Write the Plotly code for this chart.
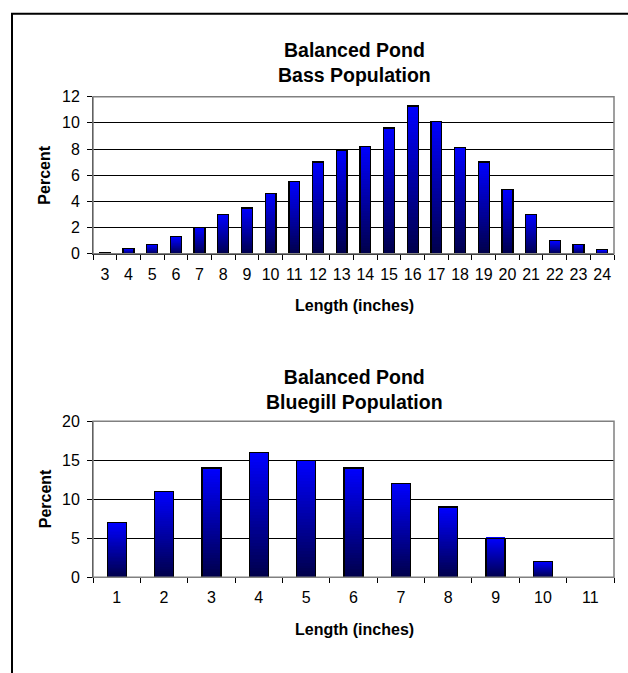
import plotly.graph_objects as go

# ---- data ----
bass_lengths = ["3", "4", "5", "6", "7", "8", "9", "10", "11", "12", "13", "14",
                "15", "16", "17", "18", "19", "20", "21", "22", "23", "24"]
bass_percent = [0.1, 0.4, 0.7, 1.3, 2.0, 3.0, 3.5, 4.6, 5.5, 7.0, 7.9, 8.2,
                9.6, 11.3, 10.1, 8.1, 7.0, 4.9, 3.0, 1.0, 0.7, 0.3]

bluegill_lengths = ["1", "2", "3", "4", "5", "6", "7", "8", "9", "10", "11"]
bluegill_percent = [7, 11, 14, 16, 15, 14, 12, 9, 5, 2, 0]

bass_title = "Balanced Pond<br>Bass Population"
bluegill_title = "Balanced Pond<br>Bluegill Population"
x_title = "Length (inches)"
y_title = "Percent"

# ---- styling ----
W, H = 628, 673
FONT = "Arial, Liberation Sans, sans-serif"
N_SLICES = 40
TOP_B, BOT_B = 255, 74


def px_x(p):
    return p / W


def px_y(p):
    return 1 - p / H


fig = go.Figure()


def add_gradient_bars(cats, vals, xa, xa_outline, ya, width):
    # vertical gradient per bar: stack equal slices, dark at bottom, bright at top
    for k in range(N_SLICES):
        t = (k + 0.5) / N_SLICES
        b = int(round(BOT_B + (TOP_B - BOT_B) * t))
        fig.add_trace(go.Bar(
            x=cats, y=[v / N_SLICES for v in vals], width=width,
            marker=dict(color=f"rgb(0,0,{b})", line=dict(width=0)),
            xaxis=xa, yaxis=ya, showlegend=False, hoverinfo="skip"))
    # outline of every full bar, on an overlaying axis so it is not stacked
    fig.add_trace(go.Bar(
        x=cats, y=vals, width=width,
        marker=dict(color="rgba(0,0,0,0)", line=dict(color="#000000", width=1.3)),
        xaxis=xa_outline, yaxis=ya, showlegend=False, hoverinfo="skip"))


add_gradient_bars(bass_lengths, bass_percent, "x", "x3", "y", 0.46)
add_gradient_bars(bluegill_lengths, bluegill_percent, "x2", "x4", "y2", 0.40)

xdom = [px_x(93), px_x(614)]
bass_ydom = [px_y(252), px_y(91)]
blue_ydom = [px_y(584), px_y(424)]

tickfont = dict(family=FONT, size=16, color="#000000")

def xaxis_cfg(cats, anchor):
    return dict(type="category", categoryorder="array", categoryarray=cats,
                range=[-0.5, len(cats) - 0.5], domain=xdom, anchor=anchor,
                showgrid=False, zeroline=False, showline=True, linecolor="#000000",
                linewidth=1, ticks="outside", tickson="boundaries", ticklen=5,
                tickcolor="#000000", tickwidth=1, tickfont=tickfont, tickangle=0,
                ticklabelstandoff=6, fixedrange=True)

def yaxis_cfg(dom, rng, dtick, anchor):
    return dict(domain=dom, range=rng, dtick=dtick, tick0=0, anchor=anchor,
                showgrid=True, gridcolor="#000000", gridwidth=1, zeroline=False,
                showline=True, linecolor="#000000", linewidth=1, ticks="outside",
                ticklen=5, tickcolor="#000000", tickwidth=1, tickfont=tickfont,
                ticklabelstandoff=4, fixedrange=True)

fig.update_layout(
    width=W, height=H,
    margin=dict(l=0, r=0, t=0, b=0),
    paper_bgcolor="#ffffff", plot_bgcolor="#ffffff",
    barmode="stack",
    showlegend=False,
    xaxis=xaxis_cfg(bass_lengths, "y"),
    yaxis=yaxis_cfg(bass_ydom, [0, 12], 2, "x"),
    xaxis2=xaxis_cfg(bluegill_lengths, "y2"),
    yaxis2=yaxis_cfg(blue_ydom, [0, 20], 5, "x2"),
    xaxis3=dict(type="category", categoryorder="array", categoryarray=bass_lengths,
                range=[-0.5, len(bass_lengths) - 0.5], overlaying="x", anchor="y",
                visible=False, fixedrange=True),
    xaxis4=dict(type="category", categoryorder="array", categoryarray=bluegill_lengths,
                range=[-0.5, len(bluegill_lengths) - 0.5], overlaying="x2", anchor="y2",
                visible=False, fixedrange=True),
)

title_font = dict(family=FONT, size=19.5, color="#000000")
axis_font = dict(family=FONT, size=16, color="#000000")
cx = px_x(354)

annotations = [
    dict(text=f"<b>{bass_title}</b>", x=cx, y=px_y(56), font=title_font),
    dict(text=f"<b>{x_title}</b>", x=cx, y=px_y(305), font=axis_font),
    dict(text=f"<b>{y_title}</b>", x=px_x(45), y=px_y(172), font=axis_font, textangle=-90),
    dict(text=f"<b>{bluegill_title}</b>", x=cx, y=px_y(391), font=title_font),
    dict(text=f"<b>{x_title}</b>", x=cx, y=px_y(638), font=axis_font),
    dict(text=f"<b>{y_title}</b>", x=px_x(45), y=px_y(504), font=axis_font, textangle=-90),
]
for a in annotations:
    a.update(xref="paper", yref="paper", showarrow=False, xanchor="center", yanchor="middle")
fig.update_layout(annotations=annotations)

shapes = [
    # gray plot-area borders
    dict(type="rect", xref="x domain", yref="y domain", x0=0, x1=1, y0=0, y1=1,
         line=dict(color="#808080", width=1.5), fillcolor="rgba(0,0,0,0)", layer="above"),
    dict(type="rect", xref="x2 domain", yref="y2 domain", x0=0, x1=1, y0=0, y1=1,
         line=dict(color="#808080", width=1.5), fillcolor="rgba(0,0,0,0)", layer="above"),
    # outer black frame (runs off the right and bottom edges)
    dict(type="rect", xref="paper", yref="paper", x0=px_x(12), x1=1.1, y0=-0.1, y1=px_y(6),
         line=dict(color="#000000", width=2), fillcolor="rgba(0,0,0,0)", layer="above"),
]
fig.update_layout(shapes=shapes)

fig.write_html(
    "out.html",
    config={"displayModeBar": False},
    post_script="document.body.style.margin='0';document.body.style.overflow='hidden';",
)
